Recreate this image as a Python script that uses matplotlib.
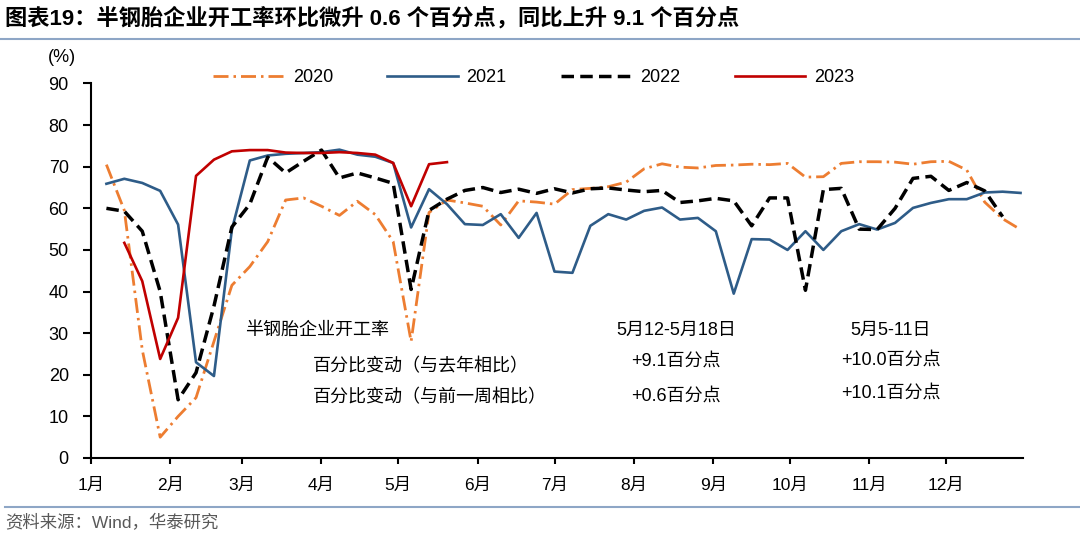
import pandas as pd
import matplotlib.pyplot as plt
from matplotlib.lines import Line2D

plt.rcParams['font.family'] = ['Liberation Sans', 'Noto Sans CJK SC']
plt.rcParams['lines.scale_dashes'] = False

# weekly points, all years drawn on one common calendar
weeks = pd.date_range('2021-01-07', periods=52, freq='7D')
months = pd.date_range('2021-01-01', periods=12, freq='MS')
month_labels = [f'{m}月' for m in range(1, 13)]

v2020 = [70.5, 59.5, 26, 5, 10, 14.5, 28, 41.5, 46, 52,
         62, 62.5, 60.5, 58.3, 61.7, 58.5, 52, 28, 59, 62,
         61.3, 60.5, 56, 61.8, 61.5, 61, 64.5, 64.8, 65.2, 66.3,
         69.5, 70.7, 69.9, 69.7, 70.3, 70.4, 70.6, 70.5, 70.8, 67.5,
         67.6, 70.8, 71.2, 71.2, 71.1, 70.6, 71.2, 71.3, 69.2, 61.5,
         57.5, 54.9]
v2021 = [65.9, 67.1, 66.1, 64.2, 56.1, 23.0, 19.7, 54.9, 71.5, 72.7,
         73.1, 73.3, 73.5, 74.1, 72.9, 72.4, 70.9, 55.4, 64.6, 61.0,
         56.2, 56.0, 58.6, 52.9, 58.9, 44.8, 44.5, 55.8, 58.6, 57.3,
         59.4, 60.2, 57.3, 57.7, 54.5, 39.5, 52.6, 52.5, 50.0, 54.5,
         50.0, 54.5, 56.2, 54.9, 56.5, 60.1, 61.3, 62.2, 62.2, 63.8,
         64.0, 63.7]
v2022 = [60, 59.3, 54.5, 40, 14, 20.5, 36.5, 55.5, 61, 72.3,
         68.5, 71.3, 74, 67.3, 68.5, 67.3, 66, 40.5, 59.5, 62.2,
         64.3, 65, 63.8, 64.6, 63.6, 64.7, 63.7, 64.7, 64.9, 64.4,
         64, 64.3, 61.4, 61.8, 62.4, 61.8, 55.8, 62.5, 62.5, 40.3,
         64.5, 64.8, 55, 54.9, 60, 67.2, 67.7, 64.3, 66.2, 64.2,
         58]
v2023 = [51.7, 42.5, 23.8, 33.7, 67.8, 71.7, 73.7, 74, 74, 73.4,
         73.3, 73.3, 73.5, 73.3, 72.9, 70.9, 60.5, 70.6, 71.1]

note_rows = ['百分比变动（与去年相比）', '百分比变动（与前一周相比）']
note_week = ['5月12-5月18日', '+9.1百分点', '+0.6百分点']
note_prev = ['5月5-11日', '+10.0百分点', '+10.1百分点']

fig = plt.figure(figsize=(10.8, 5.38), dpi=100)
ax = fig.add_axes([0.0843, 0.1487, 0.8630, 0.6961])

ax.plot(weeks[:len(v2020)], v2020, color='#ED7D31', lw=2.0,
        linestyle=(0, (10.8, 3.6, 1.8, 3.6)), label='2020')
ax.plot(weeks[:len(v2021)], v2021, color='#2E5C88', lw=1.9, label='2021')
ax.plot(weeks[:len(v2022)], v2022, color='black', lw=2.5,
        linestyle=(0, (9, 4.5)), label='2022')
ax.plot(weeks[1:1 + len(v2023)], v2023, color='#C00000', lw=1.9, label='2023')

ax.set_xlim(pd.Timestamp('2021-01-01'), pd.Timestamp('2021-12-31'))
ax.set_ylim(0, 90)
ax.set_yticks(range(0, 91, 10))
ax.set_xticks(months)
ax.set_xticklabels(month_labels)
for s in ['top', 'right']:
    ax.spines[s].set_visible(False)
for s in ['left', 'bottom']:
    ax.spines[s].set_linewidth(1.5)
ax.tick_params(axis='y', direction='out', length=6, width=1.5, pad=10, labelsize=13)
ax.tick_params(axis='x', direction='out', length=4, width=1.5, pad=10, labelsize=12.5)

ax.legend(loc='center', bbox_to_anchor=(0.475, 1.015), ncol=4, frameon=False,
          fontsize=13, handlelength=3.9, handletextpad=0.5, columnspacing=3.0)

# text table inside the plot
ax.text(0.1652, 0.342, '半钢胎企业开工率', transform=ax.transAxes,
        ha='left', va='center', fontsize=13)
ax.text(0.2382, 0.243, note_rows[0], transform=ax.transAxes,
        ha='left', va='center', fontsize=13)
ax.text(0.2382, 0.160, note_rows[1], transform=ax.transAxes,
        ha='left', va='center', fontsize=13)
for txt, y in zip(note_week, [0.342, 0.258, 0.166]):
    ax.text(0.628, y, txt, transform=ax.transAxes, ha='center', va='center', fontsize=13)
for txt, y in zip(note_prev, [0.342, 0.262, 0.174]):
    ax.text(0.858, y, txt, transform=ax.transAxes, ha='center', va='center', fontsize=13)

fig.text(76 / 1080, 1 - 58 / 538, '(%)', ha='right', va='center', fontsize=13)

fig.text(5 / 1080, 1 - 18 / 538,
         '图表19：半钢胎企业开工率环比微升 0.6 个百分点，同比上升 9.1 个百分点',
         ha='left', va='center', fontsize=16, fontweight='bold')
fig.add_artist(Line2D([0, 1], [1 - 39 / 538, 1 - 39 / 538], color='#8EA6C6', lw=1.5))
fig.add_artist(Line2D([0.005, 1], [1 - 507 / 538, 1 - 507 / 538], color='#8EA6C6', lw=1.5))
fig.text(5 / 1080, 1 - 523 / 538, '资料来源：Wind，华泰研究', ha='left', va='center',
         fontsize=12.5, color='#595959')

fig.savefig('out.png', dpi=100)
